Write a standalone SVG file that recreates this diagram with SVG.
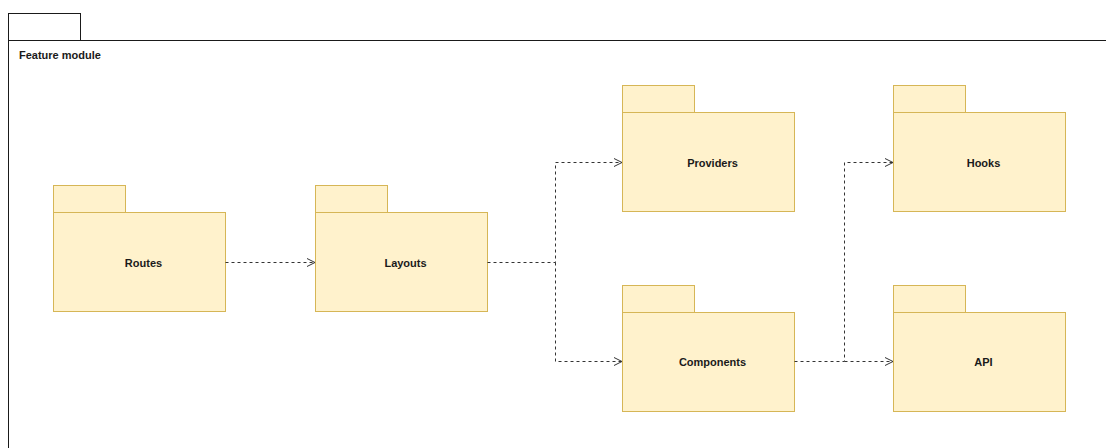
<svg xmlns="http://www.w3.org/2000/svg" width="1106" height="448" viewBox="0 0 1106 448">
  <defs>
    <style>
      .frame { fill: #ffffff; stroke: #1a1a1a; stroke-width: 1; }
      .pkg { fill: #fff2cc; stroke: #d6b656; stroke-width: 1; }
      .lbl { font-family: "Liberation Sans", Arial, sans-serif; font-size: 11px; font-weight: bold; fill: #1a1a1a; text-anchor: middle; dominant-baseline: central; }
      .title { font-family: "Liberation Sans", Arial, sans-serif; font-size: 11px; font-weight: bold; fill: #1a1a1a; }
      .edge { fill: none; stroke: #333333; stroke-width: 1; stroke-dasharray: 3 3; }
    </style>
    <marker id="open" viewBox="0 0 10 10" refX="9" refY="5" markerWidth="10" markerHeight="10" markerUnits="userSpaceOnUse" orient="auto">
      <path d="M1,1 L9,5 L1,9" fill="none" stroke="#333333" stroke-width="1"/>
    </marker>
  </defs>

  <rect width="1106" height="448" fill="#ffffff"/>

  <!-- outer module frame -->
  <g id="feature-module">
    <rect class="frame" x="8.5" y="13.5" width="72" height="27"/>
    <rect class="frame" x="8.5" y="40.5" width="1110" height="420"/>
    <text class="title" x="19" y="59">Feature module</text>
  </g>

  <!-- packages -->
  <g id="routes">
    <rect class="pkg" x="53.5" y="185.5" width="72" height="27"/>
    <rect class="pkg" x="53.5" y="212.5" width="172" height="99"/>
    <text class="lbl" x="143.5" y="263">Routes</text>
  </g>
  <g id="layouts">
    <rect class="pkg" x="315.5" y="185.5" width="72" height="27"/>
    <rect class="pkg" x="315.5" y="212.5" width="172" height="99"/>
    <text class="lbl" x="405.5" y="263">Layouts</text>
  </g>
  <g id="providers">
    <rect class="pkg" x="622.5" y="85.5" width="72" height="27"/>
    <rect class="pkg" x="622.5" y="112.5" width="172" height="99"/>
    <text class="lbl" x="712.5" y="163">Providers</text>
  </g>
  <g id="components">
    <rect class="pkg" x="622.5" y="285.5" width="72" height="27"/>
    <rect class="pkg" x="622.5" y="312.5" width="172" height="99"/>
    <text class="lbl" x="712.5" y="362">Components</text>
  </g>
  <g id="hooks">
    <rect class="pkg" x="893.5" y="85.5" width="72" height="27"/>
    <rect class="pkg" x="893.5" y="112.5" width="172" height="99"/>
    <text class="lbl" x="983.5" y="163">Hooks</text>
  </g>
  <g id="api">
    <rect class="pkg" x="893.5" y="285.5" width="72" height="27"/>
    <rect class="pkg" x="893.5" y="312.5" width="172" height="99"/>
    <text class="lbl" x="983.5" y="362">API</text>
  </g>

  <!-- dependency connectors -->
  <g id="connectors">
    <path class="edge" d="M225.5,262.5 L315,262.5" marker-end="url(#open)"/>
    <path class="edge" d="M487.5,262.5 L555.5,262.5 L555.5,162.5 L622,162.5" marker-end="url(#open)"/>
    <path class="edge" d="M555.5,262.5 L555.5,361.5 L622,361.5" marker-end="url(#open)"/>
    <path class="edge" d="M794.5,361.5 L844.5,361.5 L844.5,162.5 L893,162.5" marker-end="url(#open)"/>
    <path class="edge" d="M844.5,361.5 L893,361.5" marker-end="url(#open)"/>
  </g>
</svg>
